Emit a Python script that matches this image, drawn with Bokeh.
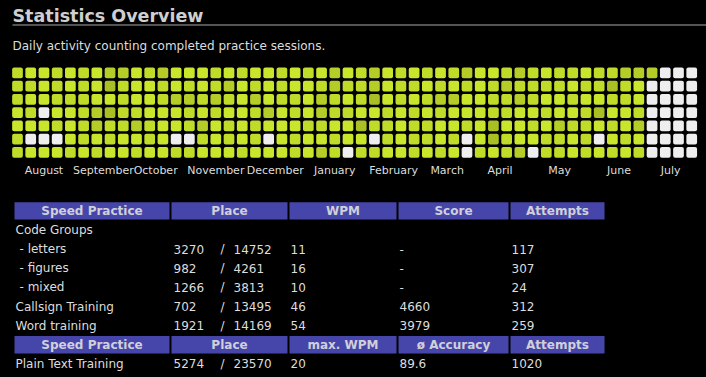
from bokeh.plotting import figure
from bokeh.models import Range1d, ColumnDataSource
from bokeh.embed import file_html
from bokeh.resources import INLINE
from bokeh.core.properties import value

FONT = "DejaVu Sans"

# ---------------- data ----------------
# activity level per weekday row (0 = no session ... 4 = most), 52 weeks Aug -> Jul
day0 = [2,1,1,2,1,2,1,3,3,1,2,3,1, 1,1,2,1,2,1,1,2,1,2,1,3,1, 2,3,1,2,1,2,1,2,3,1,1,2,3, 2,1,2,2,1,2,2,3,3,3,0,0,0]
day1 = [2,2,1,2,1,2,1,4,2,1,1,2,1, 2,1,2,3,1,2,1,2,1,1,2,3,2, 2,3,1,2,2,1,2,1,2,1,2,3,2, 2,2,2,1,2,2,4,2,1,0,0,0,0]
day2 = [2,1,1,2,2,2,1,1,2,1,1,2,3, 3,2,3,2,1,3,1,2,2,1,3,2,1, 2,4,1,2,1,2,3,3,1,1,2,2,3, 2,1,1,2,1,1,2,2,1,0,0,0,0]
day3 = [1,2,0,1,1,2,3,4,2,2,1,1,1, 2,1,2,1,1,2,3,1,2,1,3,2,2, 1,1,2,1,2,1,2,1,1,1,2,2,1, 1,2,1,1,2,4,1,1,2,0,0,0,0]
day4 = [1,1,1,2,1,2,3,2,2,3,2,1,1, 2,3,1,2,1,2,1,1,1,2,2,1,1, 4,2,2,1,2,2,1,1,2,1,4,1,1, 2,1,3,2,2,1,2,1,3,0,0,0,0]
day5 = [2,0,0,0,1,2,1,2,1,1,2,1,0, 0,2,1,2,1,2,0,1,2,1,1,2,1, 1,0,2,1,2,2,1,2,0,1,4,2,1, 1,2,2,1,2,0,1,2,1,0,0,0,0]
day6 = [2,1,1,1,2,1,2,1,1,2,1,1,2, 2,1,1,1,2,1,1,1,2,1,3,2,0, 2,2,1,1,2,1,2,1,0,2,1,2,3, 0,2,2,1,2,1,2,1,2,0,0,0,0]
days = [day0, day1, day2, day3, day4, day5, day6]

months = ["August", "September", "October", "November", "December", "January",
          "February", "March", "April", "May", "June", "July"]
month_week = [2.0, 6.5, 10.45, 15.0, 19.5, 24.0, 28.45, 32.5, 36.5, 41.0, 45.5, 49.4]

header1 = ["Speed Practice", "Place", "WPM", "Score", "Attempts"]
header2 = ["Speed Practice", "Place", "max. WPM", "\u00f8 Accuracy", "Attempts"]

disciplines = ["Code Groups", "- letters", "- figures", "- mixed", "Callsign Training", "Word training"]
indent = [0, 1, 1, 1, 0, 0]
place = ["", "3270", "982", "1266", "702", "1921"]
of_total = ["", "14752", "4261", "3813", "13495", "14169"]
wpm = ["", "11", "16", "10", "46", "54"]
score = ["", "-", "-", "-", "4660", "3979"]
attempts = ["", "117", "307", "24", "312", "259"]

plain_label = ["Plain Text Training"]
plain_place = ["5274"]
plain_total = ["23570"]
plain_wpm = ["20"]
plain_accuracy = ["89.6"]
plain_attempts = ["1020"]

# ---------------- style / layout ----------------
PALETTE = ["#eeeeee", "#c9e62c", "#c0dc29", "#b5cd26", "#a9bf23"]
BAND = "#4646aa"
TXT = "#dddddd"
HTXT = "#d0d0d8"

W, H = 706, 377
p = figure(width=W, height=H, x_range=Range1d(0, W), y_range=Range1d(H, 0),
           output_backend="svg", toolbar_location=None, min_border=0,
           x_axis_location=None, y_axis_location=None)
p.grid.visible = False
p.outline_line_color = None
p.background_fill_color = "#000000"
p.border_fill_color = "#000000"

# heat-map scales (week index / weekday index)
CX0, PX = 17.0, 13.22
CY0, PY = 72.3, 13.27
p.extra_x_ranges = {"wk": Range1d((0 - CX0) / PX, (W - CX0) / PX)}
p.extra_y_ranges = {"day": Range1d((H - CY0) / PY, (0 - CY0) / PY)}

wk, dy, col = [], [], []
for d, row in enumerate(days):
    for w, lvl in enumerate(row):
        wk.append(w)
        dy.append(d)
        col.append(PALETTE[lvl])
src = ColumnDataSource(dict(
    left=[w - 0.405 for w in wk], right=[w + 0.405 for w in wk],
    top=[d - 0.403 for d in dy], bottom=[d + 0.403 for d in dy], color=col))
p.quad(left="left", right="right", top="top", bottom="bottom", source=src,
       fill_color="color", line_color=None, border_radius=2,
       x_range_name="wk", y_range_name="day")

p.text(x=month_week, y=[170] * len(months), text=months, x_range_name="wk",
       text_align="center", text_baseline="middle", text_font=value(FONT),
       text_font_size="11px", text_color=TXT)

# title + subtitle
p.text(x=[12], y=[15.5], text=["Statistics Overview"], text_font=value(FONT),
       text_font_style="bold", text_font_size="17.5px", text_color="#cfcfcf",
       text_baseline="middle")
p.segment(x0=[12], x1=[W], y0=[24.5], y1=[24.5], line_color="#a8a8a8", line_width=1)
p.text(x=[12], y=[45.5], text=["Daily activity counting completed practice sessions."],
       text_font=value(FONT), text_font_size="12px", text_color=TXT, text_baseline="middle")

# table
band_l = [14, 171, 289, 398, 510]
band_r = [169, 287, 396, 508, 604]
col_x = [15, 173, 290, 399, 511]
SLASH_X, TOTAL_X = 220, 233
RY0, RP = 210.4, 19.13
BH = 8.7

def row_y(i):
    return RY0 + RP * i

for hi, labels in ((0, header1), (7, header2)):
    y = row_y(hi)
    p.quad(left=band_l, right=band_r, top=[y - BH] * 5, bottom=[y + BH] * 5,
           fill_color=BAND, line_color=None)
    p.text(x=[(a + b) / 2 for a, b in zip(band_l, band_r)], y=[y] * 5, text=labels,
           text_align="center", text_baseline="middle", text_font=value(FONT),
           text_font_style="bold", text_font_size="12px", text_color=HTXT)

def body_text(xs, ys, texts):
    p.text(x=xs, y=ys, text=texts, text_baseline="middle", text_font=value(FONT),
           text_font_size="12px", text_color=TXT)

ys = [row_y(i + 1) for i in range(len(disciplines))]
body_text([col_x[0] + 4 * k for k in indent], ys, disciplines)
body_text([col_x[1]] * len(ys), ys, place)
body_text([SLASH_X] * len(ys), ys, ["/" if t else "" for t in of_total])
body_text([TOTAL_X] * len(ys), ys, of_total)
body_text([col_x[2]] * len(ys), ys, wpm)
body_text([col_x[3]] * len(ys), ys, score)
body_text([col_x[4]] * len(ys), ys, attempts)

y8 = [row_y(8)]
body_text([col_x[0]], y8, plain_label)
body_text([col_x[1]], y8, plain_place)
body_text([SLASH_X], y8, ["/"])
body_text([TOTAL_X], y8, plain_total)
body_text([col_x[2]], y8, plain_wpm)
body_text([col_x[3]], y8, plain_accuracy)
body_text([col_x[4]], y8, plain_attempts)

html = file_html(p, INLINE)
html = html.replace("</head>",
                    "<style>html,body{background:#000000;margin:0;padding:0;overflow:hidden;}</style></head>", 1)
open("out.html", "w").write(html)
